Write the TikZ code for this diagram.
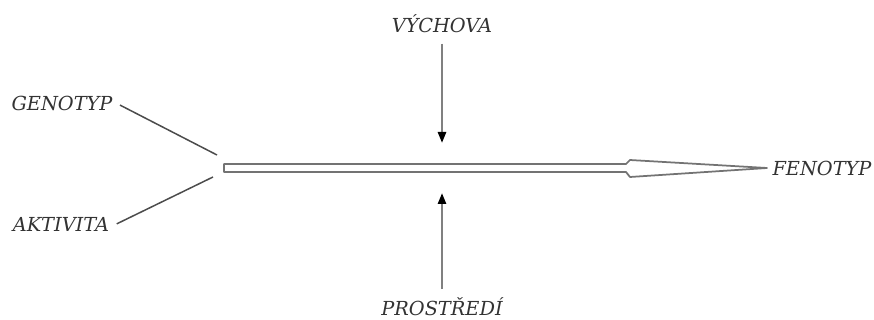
\documentclass[tikz,border=0pt]{standalone}
\usepackage{fontspec}
\setmainfont{DejaVu Serif}
\usetikzlibrary{arrows.meta}

\begin{document}
\begin{tikzpicture}[x=0.02cm, y=-0.02cm,
  term/.style={font=\fontsize{11}{13}\selectfont\itshape, anchor=base, inner sep=0.1cm, text=black!80},
  feed/.style={black!70, line width=0.3mm},
  push/.style={black!50, line width=0.5mm, -{Triangle[length=0.22cm, width=0.16cm, fill=black, color=black]}}]

\useasboundingbox (0,0) rectangle (874,320);

% terms
\node[term] (genotyp) at (62,111) {GENOTYP};
\node[term] (aktivita) at (61,232) {AKTIVITA};
\node[term] (vychova) at (442,33) {VÝCHOVA};
\node[term] (prostredi) at (442,315) {PROSTŘEDÍ};
\node[term] (fenotyp) at (822,176) {FENOTYP};

\coordinate (gin) at (217,155);
\coordinate (ain) at (213,177);
\coordinate (vin) at (442,143);
\coordinate (pin) at (442,193);

% lines into the arrow
\draw[feed, shorten <=0.05cm] (genotyp.east) -- (gin);
\draw[feed, shorten <=0.05cm] (aktivita.east) -- (ain);

\draw[push, shorten <=0.1cm] (vychova.south) -- (vin);
\draw[push, shorten <=0.05cm] (prostredi.north) -- (pin);

% big arrow
\draw[black!55, line width=0.35mm, line join=round]
  (224,164) -- (626,164) -- (630,160) -- (767,168) -- (630,177) -- (626,172) -- (224,172) -- cycle;

\end{tikzpicture}
\end{document}
